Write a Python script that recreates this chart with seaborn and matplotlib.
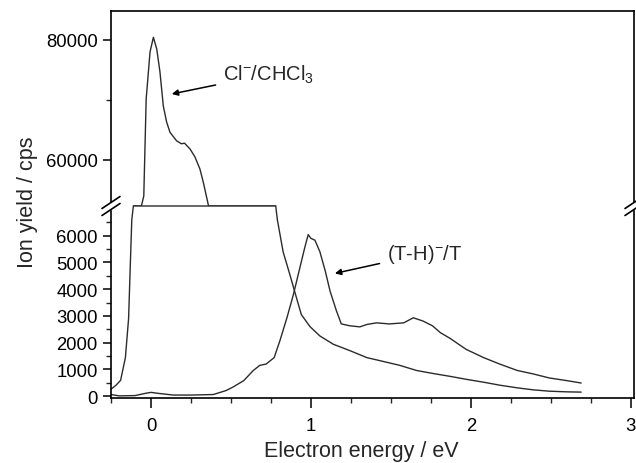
import numpy as np
import pandas as pd
import seaborn as sns
import matplotlib.pyplot as plt
from matplotlib.ticker import MultipleLocator, FixedLocator

# Cl-/CHCl3 curve (values inside the axis gap are only seen clipped at the break)
cl_x = [-0.25, -0.22, -0.19, -0.16, -0.14, -0.13, -0.12, -0.11, -0.06, -0.045, -0.03,
        -0.006, 0.015, 0.036, 0.056, 0.077, 0.098, 0.119, 0.16, 0.19, 0.21, 0.245,
        0.275, 0.306, 0.327, 0.36, 0.5, 0.78, 0.79, 0.826, 0.869, 0.91, 0.94, 0.994,
        1.056, 1.14, 1.244, 1.35, 1.45, 1.556, 1.66, 1.76, 1.87, 1.97, 2.08, 2.18,
        2.29, 2.39, 2.49, 2.6, 2.69]
cl_y = [260, 400, 590, 1440, 2900, 4780, 6600, 20000, 45000, 54000, 70200,
        78000, 80450, 78500, 74700, 69000, 66300, 64600, 63200, 62700, 62800, 61800,
        60500, 58500, 56300, 52300, 40000, 10000, 6600, 5400, 4530, 3670, 3050, 2600,
        2250, 1940, 1700, 1440, 1300, 1150, 960, 850, 740, 630, 520, 410,
        310, 235, 185, 160, 150]

# (T-H)-/T curve
th_x = [-0.25, -0.2, -0.1, -0.03, 0.0, 0.05, 0.14, 0.25, 0.39, 0.47, 0.51, 0.58,
        0.64, 0.68, 0.72, 0.77, 0.806, 0.85, 0.89, 0.93, 0.96, 0.983, 1.0, 1.025,
        1.056, 1.09, 1.12, 1.16, 1.19, 1.244, 1.306, 1.35, 1.41, 1.49, 1.58, 1.64,
        1.70, 1.76, 1.81, 1.87, 1.97, 2.08, 2.18, 2.29, 2.39, 2.49, 2.6, 2.69]
th_y = [60, 10, 20, 110, 140, 100, 40, 40, 60, 210, 330, 580,
        960, 1150, 1200, 1440, 2070, 2930, 3790, 4780, 5520, 6040, 5900, 5830,
        5400, 4670, 3920, 3180, 2700, 2630, 2590, 2680, 2740, 2700, 2740, 2930,
        2810, 2630, 2370, 2160, 1750, 1440, 1200, 960, 830, 680, 580, 490]

low_ticks = [0, 1000, 2000, 3000, 4000, 5000, 6000]
high_ticks = [60000, 80000]
low_lim = (-70, 7110)
high_lim = (52330, 84830)

sns.set_theme(style='ticks')
plt.rcParams['font.family'] = ['Liberation Sans', 'DejaVu Sans']
plt.rcParams['mathtext.fontset'] = 'custom'
plt.rcParams['mathtext.rm'] = 'Liberation Sans'
plt.rcParams['mathtext.it'] = 'Liberation Sans:italic'

fig = plt.figure(figsize=(6.36, 4.64), dpi=100)
ax_hi = fig.add_axes([111/636, 257/464, 523/636, 195/464])
ax_lo = fig.add_axes([111/636, 65/464, 523/636, 192/464])

line_col = '#2b2b2b'
df_cl = pd.DataFrame({'x': cl_x, 'y': cl_y})
df_th = pd.DataFrame({'x': th_x, 'y': th_y})

# lower part: Cl curve clipped at the break
sns.lineplot(x=df_cl['x'], y=np.minimum(df_cl['y'], low_lim[1]), ax=ax_lo,
             color=line_col, lw=1.0, clip_on=False)
sns.lineplot(x=df_th['x'], y=df_th['y'], ax=ax_lo, color=line_col, lw=1.0)
# upper part: only the stretch that lies above the lower panel
hi_y = np.where(df_cl['y'] > low_lim[1], np.maximum(df_cl['y'], high_lim[0]), np.nan)
ax_hi.plot(df_cl['x'], hi_y, color=line_col, lw=1.0, clip_on=False)

for ax in (ax_lo, ax_hi):
    ax.set_xlim(-0.25, 3.02)
    ax.set_xlabel('')
    ax.set_ylabel('')
    for s in ax.spines.values():
        s.set_linewidth(1.2)
        s.set_color('black')
    ax.tick_params(which='major', direction='out', length=6, width=1.1,
                   labelsize=13.3, colors='black')
    ax.tick_params(which='minor', direction='out', length=3.5, width=1.0)

ax_lo.set_ylim(*low_lim)
ax_lo.yaxis.set_major_locator(FixedLocator(low_ticks))
ax_lo.yaxis.set_minor_locator(FixedLocator([t + 500 for t in low_ticks]))
ax_lo.xaxis.set_major_locator(MultipleLocator(1))
ax_lo.xaxis.set_minor_locator(MultipleLocator(0.25))
ax_lo.spines['top'].set_visible(False)
ax_lo.tick_params(axis='x', which='major', length=7, pad=7)

ax_hi.set_ylim(*high_lim)
ax_hi.yaxis.set_major_locator(FixedLocator(high_ticks))
ax_hi.yaxis.set_minor_locator(FixedLocator([70000]))
ax_hi.spines['bottom'].set_visible(False)
ax_hi.tick_params(axis='x', which='both', bottom=False, labelbottom=False)

# break marks on both side spines
yb = 257/464
for xb in (111/636, 634/636):
    gap = plt.Polygon([[xb - 3/636, yb - 3/464], [xb + 3/636, yb - 3/464],
                       [xb + 3/636, yb + 3/464], [xb - 3/636, yb + 3/464]],
                      closed=True, transform=fig.transFigure, color='white', zorder=5)
    fig.patches.append(gap)
    for dy in (-3.5, 3.5):
        fig.lines.append(plt.Line2D([xb - 9/636, xb + 9/636],
                                    [yb + (dy - 6)/464, yb + (dy + 6)/464],
                                    transform=fig.transFigure, color='black',
                                    lw=1.2, zorder=6))

# annotations
ax_hi.annotate('Cl$^{-}$/CHCl$_{3}$', xy=(0.13, 71000), xytext=(0.45, 74300),
               fontsize=14.5, va='center', ha='left',
               arrowprops=dict(arrowstyle='-|>', color='black', lw=1.1,
                               shrinkA=3, shrinkB=0, mutation_scale=9))
ax_lo.annotate('(T-H)$^{-}$/T', xy=(1.15, 4590), xytext=(1.475, 5330),
               fontsize=14.5, va='center', ha='left',
               arrowprops=dict(arrowstyle='-|>', color='black', lw=1.1,
                               shrinkA=3, shrinkB=0, mutation_scale=9))

fig.text(28/636, 262/464, 'Ion yield / cps', rotation=90, ha='center',
         va='center', fontsize=15.5)
fig.text(361/636, 12/464, 'Electron energy / eV', ha='center', va='center',
         fontsize=15.5)

fig.savefig('out.png', dpi=100)
